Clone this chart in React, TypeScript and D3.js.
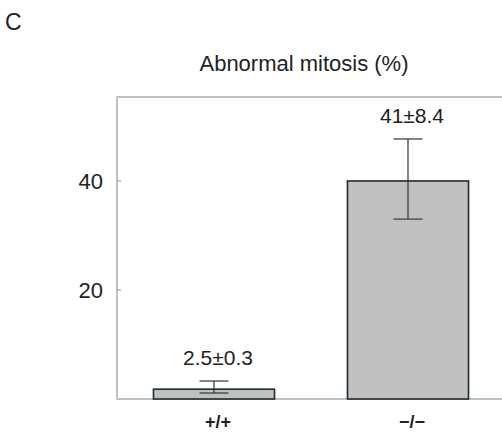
import React from "react";
import * as d3 from "d3";

const categories = ["+/+", "−/−"];
const means = [1.8, 40];
const errLow = [1.1, 33];
const errHigh = [3.3, 47.7];
const valueLabels = ["2.5±0.3", "41±8.4"];
const yTicks = [20, 40];
const title = "Abnormal mitosis (%)";
const panelLetter = "C";

export default function App() {
  const W = 502, H = 434;
  const L = 117, R = 505, T = 97, B = 399;
  const x = d3.scaleBand<string>().domain(categories).range([L, R]).paddingInner(0.376).paddingOuter(0.188);
  const y = d3.scaleLinear().domain([0, 55.4]).range([B, T]);
  const font = "'Liberation Sans', Arial, sans-serif";
  const frame = "#8c9aa6";
  const capW = 29;
  return (
    <svg width={W} height={H} style={{ position: "absolute", left: 0, top: 0, background: "#fff" }} fontFamily={font}>
      <text x={5} y={30} fontSize={23} fill="#222">{panelLetter}</text>
      <text x={304} y={71} fontSize={22} textAnchor="middle" fill="#222">{title}</text>
      <rect x={L} y={T} width={R - L} height={B - T} fill="none" stroke={frame} strokeWidth={1.2} />
      {yTicks.map((t) => (
        <g key={t}>
          <line x1={L} x2={L + 4} y1={y(t)} y2={y(t)} stroke={frame} strokeWidth={1} />
          <text x={103} y={y(t)} dy="0.35em" fontSize={22} textAnchor="end" fill="#222">{t}</text>
        </g>
      ))}
      {categories.map((c, i) => {
        const bx = x(c)!;
        const bw = x.bandwidth();
        const cx = bx + bw / 2;
        return (
          <g key={c}>
            <rect x={bx} y={y(means[i])} width={bw} height={y(0) - y(means[i])} fill="#c0c0c0" stroke="#1e2a30" strokeWidth={1.6} />
            <line x1={cx} x2={cx} y1={y(errHigh[i])} y2={y(errLow[i])} stroke="#333" strokeWidth={1.2} />
            <line x1={cx - capW / 2} x2={cx + capW / 2} y1={y(errHigh[i])} y2={y(errHigh[i])} stroke="#333" strokeWidth={1.2} />
            <line x1={cx - capW / 2} x2={cx + capW / 2} y1={y(errLow[i])} y2={y(errLow[i])} stroke="#333" strokeWidth={1.2} />
            <text x={cx + 4} y={y(errHigh[i]) - 16} fontSize={21} textAnchor="middle" fill="#222">{valueLabels[i]}</text>
            <text x={cx + 4} y={428} fontSize={18} fontWeight="bold" textAnchor="middle" fill="#222">{c}</text>
          </g>
        );
      })}
    </svg>
  );
}
